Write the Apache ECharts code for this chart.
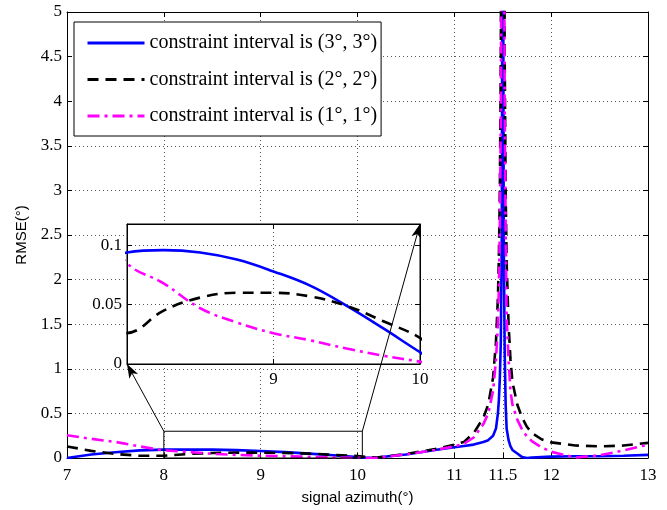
<!DOCTYPE html>
<html>
<head>
<meta charset="utf-8">
<script src="https://cdn.jsdelivr.net/npm/echarts@6/dist/echarts.min.js"></script>
<style>html,body{margin:0;padding:0;background:#fff}#c{width:667px;height:510px}</style>
</head>
<body>
<div id="c"></div>
<script>
// ---- data ----
const xs      = [7, 7.25, 7.5, 7.75, 8, 8.25, 8.5, 8.75, 9, 9.25, 9.5, 9.75, 10, 10.1, 10.2, 10.5, 10.8, 11, 11.1, 11.2, 11.3, 11.35, 11.4, 11.43, 11.45, 11.46, 11.47, 11.48, 11.49, 11.5, 11.51, 11.52, 11.53, 11.54, 11.56, 11.58, 11.6, 11.65, 11.7, 11.75, 11.8, 11.9, 12, 12.25, 12.5, 12.75, 13];
const rmse3   = [0.0, 0.04, 0.065, 0.085, 0.094, 0.096, 0.094, 0.088, 0.078, 0.066, 0.049, 0.03, 0.01, 0.003, 0.005, 0.04, 0.09, 0.12, 0.135, 0.15, 0.18, 0.2, 0.25, 0.33, 0.5, 0.65, 0.9, 1.3, 2.5, 8, 2.5, 1.2, 0.6, 0.33, 0.2, 0.13, 0.09, 0.05, 0.01, 0.0, 0.005, 0.01, 0.015, 0.02, 0.02, 0.025, 0.035];
const rmse2   = [0.13, 0.08, 0.045, 0.025, 0.026, 0.045, 0.056, 0.06, 0.06, 0.057, 0.049, 0.036, 0.022, 0.01, 0.005, 0.045, 0.1, 0.15, 0.18, 0.28, 0.45, 0.6, 0.9, 1.3, 1.8, 2.25, 3.0, 4.5, 8, 20, 9, 4.5, 3.0, 2.2, 1.5, 1.1, 0.85, 0.6, 0.45, 0.35, 0.28, 0.21, 0.175, 0.14, 0.13, 0.14, 0.17];
const rmse1   = [0.255, 0.215, 0.18, 0.13, 0.085, 0.068, 0.047, 0.035, 0.026, 0.02, 0.013, 0.007, 0.002, 0.0, 0.003, 0.04, 0.09, 0.13, 0.16, 0.23, 0.38, 0.5, 0.75, 1.1, 1.5, 1.9, 2.6, 3.8, 7, 20, 8, 4, 2.6, 1.6, 1.1, 0.75, 0.6, 0.43, 0.32, 0.24, 0.19, 0.12, 0.07, 0.005, 0.03, 0.085, 0.15];
const seriesNames = ['constraint interval is (3°, 3°)', 'constraint interval is (2°, 2°)', 'constraint interval is (1°, 1°)'];
const xTicks = [7, 8, 9, 10, 11, 11.5, 12, 13];
const insetXTicks = [8, 9, 10];
const insetYTicks = [0, 0.05, 0.1];
const zoomBox = {x0: 8, x1: 10.05, y0: 0, y1: 0.3};

// ---- styles ----
const SERIF = 'Liberation Serif';
const SANS = 'Liberation Sans';
const dotted = {color: '#555', width: 1, type: [1, 3]};
const colors = ['#0000ff', '#000000', '#ff00ff'];
const dashes = ['solid', [11, 7], [12, 5, 3, 5]];
const ys = [rmse3, rmse2, rmse1];

const pairs = (y) => xs.map((x, i) => [x, y[i]]);
const insetPairs = (y) => xs.map((x, i) => [x, y[i]]).filter(p => p[0] >= 7.75 && p[0] <= 10.2);

const chart = echarts.init(document.getElementById('c'), null, {renderer: 'canvas'});

const axisCommon = {
  axisLine: {show: true, onZero: false, lineStyle: {color: '#000', width: 1}},
  axisTick: {show: true, inside: true, length: 5, lineStyle: {color: '#000'}},
};

const series = [];
ys.forEach((y, k) => {
  series.push({
    name: seriesNames[k], type: 'line', xAxisIndex: 0, yAxisIndex: 0,
    data: pairs(y), symbol: 'none', clip: true, z: 2,
    lineStyle: {color: colors[k], width: 2.6, type: dashes[k]},
    itemStyle: {color: colors[k]}
  });
});
ys.forEach((y, k) => {
  series.push({
    name: seriesNames[k], type: 'line', xAxisIndex: 2, yAxisIndex: 2,
    data: insetPairs(y), symbol: 'none', clip: true, smooth: 0.4, z: 6,
    lineStyle: {color: colors[k], width: 2.6, type: dashes[k]},
    itemStyle: {color: colors[k]}
  });
});

const option = {
  animation: false,
  backgroundColor: '#fff',
  grid: [
    {left: 67, right: 19, top: 12, bottom: 47, show: false},
    {left: 127, top: 224, width: 293, height: 140, show: true, backgroundColor: '#fff', borderColor: '#000', borderWidth: 1, z: 3}
  ],
  xAxis: [
    Object.assign({}, axisCommon, {
      gridIndex: 0, type: 'value', min: 7, max: 13, position: 'bottom',
      axisTick: Object.assign({}, axisCommon.axisTick, {customValues: xTicks}),
      axisLabel: {customValues: xTicks, color: '#000', fontFamily: SERIF, fontSize: 17, margin: 9},
      splitLine: {show: true, lineStyle: dotted},
      name: 'signal azimuth(°)', nameLocation: 'middle', nameGap: 32,
      nameTextStyle: {fontFamily: SANS, fontSize: 15, color: '#000'}
    }),
    Object.assign({}, axisCommon, {
      gridIndex: 0, type: 'value', min: 7, max: 13, position: 'top',
      axisTick: Object.assign({}, axisCommon.axisTick, {customValues: xTicks}),
      axisLabel: {show: false}, splitLine: {show: false}
    }),
    Object.assign({}, axisCommon, {
      gridIndex: 1, type: 'value', min: 8, max: 10, interval: 1, position: 'bottom', z: 4,
      axisTick: Object.assign({}, axisCommon.axisTick, {customValues: insetXTicks}),
      axisLabel: {customValues: insetXTicks.slice(1), color: '#000', fontFamily: SERIF, fontSize: 17, margin: 7},
      splitLine: {show: true, lineStyle: dotted}
    }),
    Object.assign({}, axisCommon, {
      gridIndex: 1, type: 'value', min: 8, max: 10, interval: 1, position: 'top', z: 4,
      axisTick: Object.assign({}, axisCommon.axisTick, {customValues: insetXTicks}),
      axisLabel: {show: false}, splitLine: {show: false}
    })
  ],
  yAxis: [
    Object.assign({}, axisCommon, {
      gridIndex: 0, type: 'value', min: 0, max: 5, interval: 0.5, position: 'left',
      axisLabel: {color: '#000', fontFamily: SERIF, fontSize: 17, margin: 5},
      splitLine: {show: true, lineStyle: dotted},
      name: 'RMSE(°)', nameLocation: 'middle', nameGap: 35, nameRotate: 90,
      nameTextStyle: {fontFamily: SANS, fontSize: 15, color: '#000'}
    }),
    Object.assign({}, axisCommon, {
      gridIndex: 0, type: 'value', min: 0, max: 5, interval: 0.5, position: 'right',
      axisLabel: {show: false}, splitLine: {show: false}
    }),
    Object.assign({}, axisCommon, {
      gridIndex: 1, type: 'value', min: 0, max: 0.118, position: 'left', z: 4,
      axisTick: Object.assign({}, axisCommon.axisTick, {customValues: insetYTicks}),
      axisLabel: {customValues: insetYTicks, color: '#000', fontFamily: SERIF, fontSize: 17, margin: 5},
      splitLine: {show: true, lineStyle: dotted}
    }),
    Object.assign({}, axisCommon, {
      gridIndex: 1, type: 'value', min: 0, max: 0.118, position: 'right', z: 4,
      axisTick: Object.assign({}, axisCommon.axisTick, {customValues: insetYTicks}),
      axisLabel: {show: false}, splitLine: {show: false}
    })
  ],
  legend: {
    data: seriesNames, orient: 'vertical', left: 74, top: 22,
    backgroundColor: '#fff', borderColor: '#000', borderWidth: 1,
    padding: [11, 4, 10, 12], itemGap: 16.5, itemWidth: 57, itemHeight: 20,
    itemStyle: {color: 'rgba(0,0,0,0)', borderWidth: 0, opacity: 0},
    lineStyle: {width: 3},
    textStyle: {fontFamily: SERIF, fontSize: 20, color: '#000', lineHeight: 20},
    z: 10
  },
  series: series
};
chart.setOption(option);

// ---- zoom box and arrows from the library's scales ----
function arrowHead(S, E, L, W) {
  const dx = E[0] - S[0], dy = E[1] - S[1];
  const len = Math.hypot(dx, dy);
  const ux = dx / len, uy = dy / len, nx = -uy, ny = ux;
  const bx = E[0] - ux * L, by = E[1] - uy * L;
  const mx = E[0] - ux * L * 0.75, my = E[1] - uy * L * 0.75;
  return [[E[0], E[1]], [bx + nx * W, by + ny * W], [mx, my], [bx - nx * W, by - ny * W]];
}
const a = chart.convertToPixel({seriesIndex: 0}, [zoomBox.x0, zoomBox.y1]);
const b = chart.convertToPixel({seriesIndex: 0}, [zoomBox.x1, zoomBox.y0]);
const c1 = chart.convertToPixel({seriesIndex: 3}, [8, 0]);
const c2 = chart.convertToPixel({seriesIndex: 3}, [10, 0.118]);
const topRight = [b[0], a[1]];
chart.setOption({
  graphic: [
    {type: 'rect', shape: {x: a[0], y: a[1], width: b[0] - a[0], height: b[1] - a[1]}, style: {fill: 'none', stroke: '#000', lineWidth: 1}, z: 50},
    {type: 'line', shape: {x1: a[0], y1: a[1], x2: c1[0], y2: c1[1]}, style: {stroke: '#000', lineWidth: 1}, z: 50},
    {type: 'line', shape: {x1: topRight[0], y1: topRight[1], x2: c2[0], y2: c2[1]}, style: {stroke: '#000', lineWidth: 1}, z: 50},
    {type: 'polygon', shape: {points: arrowHead(a, c1, 14, 5)}, style: {fill: '#000'}, z: 50},
    {type: 'polygon', shape: {points: arrowHead(topRight, c2, 14, 5)}, style: {fill: '#000'}, z: 50}
  ]
});
</script>
</body>
</html>
